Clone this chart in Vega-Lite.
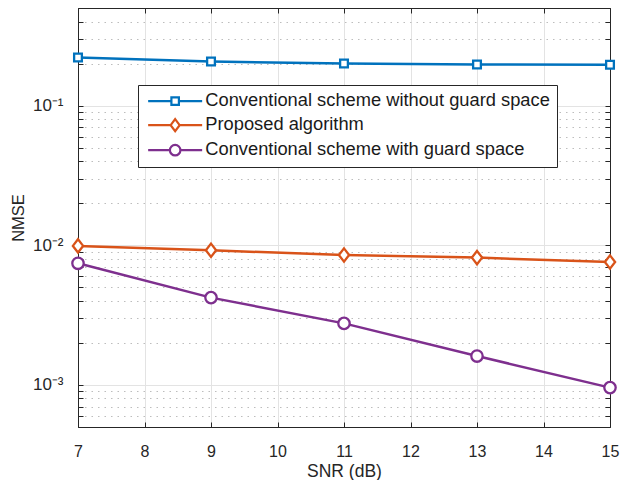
{
  "$schema": "https://vega.github.io/schema/vega-lite/v6.json",
  "autosize": "none",
  "width": 532,
  "height": 419,
  "padding": {"left": 78, "top": 8, "right": 13, "bottom": 53},
  "background": "white",
  "config": {
    "view": {"stroke": null},
    "font": "Liberation Sans",
    "axis": {
      "domainColor": "#262626",
      "domainWidth": 1,
      "tickColor": "#262626",
      "tickWidth": 1,
      "labelColor": "#262626",
      "titleColor": "#262626",
      "labelFont": "Liberation Sans",
      "titleFont": "Liberation Sans",
      "titleFontWeight": "normal"
    }
  },
  "data": {
    "values": [
      {"snr": 7, "series": "Conventional scheme without guard space", "nmse": 0.221},
      {"snr": 9, "series": "Conventional scheme without guard space", "nmse": 0.207},
      {"snr": 11, "series": "Conventional scheme without guard space", "nmse": 0.200},
      {"snr": 13, "series": "Conventional scheme without guard space", "nmse": 0.197},
      {"snr": 15, "series": "Conventional scheme without guard space", "nmse": 0.196},
      {"snr": 7, "series": "Proposed algorithm", "nmse": 0.0099},
      {"snr": 9, "series": "Proposed algorithm", "nmse": 0.00921},
      {"snr": 11, "series": "Proposed algorithm", "nmse": 0.00852},
      {"snr": 13, "series": "Proposed algorithm", "nmse": 0.00816},
      {"snr": 15, "series": "Proposed algorithm", "nmse": 0.00759},
      {"snr": 7, "series": "Conventional scheme with guard space", "nmse": 0.00743},
      {"snr": 9, "series": "Conventional scheme with guard space", "nmse": 0.00422},
      {"snr": 11, "series": "Conventional scheme with guard space", "nmse": 0.00276},
      {"snr": 13, "series": "Conventional scheme with guard space", "nmse": 0.00161},
      {"snr": 15, "series": "Conventional scheme with guard space", "nmse": 0.000957}
    ]
  },
  "resolve": {"axis": {"x": "independent", "y": "independent"}},
  "layer": [
    {
      "mark": {"type": "line", "strokeWidth": 2.5},
      "encoding": {
        "x": {
          "field": "snr", "type": "quantitative",
          "scale": {"domain": [7, 15], "nice": false, "zero": false},
          "axis": {
            "orient": "bottom",
            "title": "SNR (dB)",
            "titleFontSize": 17.5,
            "titlePadding": 3,
            "values": [7, 8, 9, 10, 11, 12, 13, 14, 15],
            "labelFontSize": 16,
            "tickSize": -5,
            "labelPadding": 21,
            "grid": true,
            "gridColor": "#e3e3e3",
            "gridWidth": 1,
            "labelFlush": false
          }
        },
        "y": {
          "field": "nmse", "type": "quantitative",
          "scale": {"type": "log", "domain": [0.0005, 0.5], "nice": false},
          "axis": {
            "orient": "left",
            "title": "NMSE",
            "titleFontSize": 16.5,
            "titlePadding": 6,
            "values": [0.0005, 0.0006, 0.0007, 0.0008, 0.0009, 0.001, 0.002, 0.003, 0.004, 0.005, 0.006, 0.007, 0.008, 0.009, 0.01, 0.02, 0.03, 0.04, 0.05, 0.06, 0.07, 0.08, 0.09, 0.1, 0.2, 0.3, 0.4, 0.5],
            "labelExpr": "datum.value == 0.1 ? '10⁻¹' : datum.value == 0.01 ? '10⁻²' : datum.value == 0.001 ? '10⁻³' : ''",
            "labelOverlap": false,
            "labelFontSize": 17,
            "tickSize": -5,
            "labelPadding": 20,
            "grid": true,
            "gridColor": {"condition": {"test": "datum.value == 0.1 || datum.value == 0.01 || datum.value == 0.001", "value": "#e3e3e3"}, "value": "#bdbdbd"},
            "gridDash": {"condition": {"test": "datum.value == 0.1 || datum.value == 0.01 || datum.value == 0.001", "value": []}, "value": [1.5, 5]},
            "labelFlush": false
          }
        },
        "stroke": {
          "field": "series", "type": "nominal",
          "scale": {
            "domain": ["Proposed algorithm", "Conventional scheme without guard space", "Conventional scheme with guard space"],
            "range": ["#D95319", "#0072BD", "#7E2F8E"]
          },
          "legend": null
        }
      }
    },
    {
      "transform": [{"filter": "datum.series == 'Conventional scheme without guard space'"}],
      "mark": {"type": "point", "shape": "square", "filled": true, "fill": "white", "size": 60, "strokeWidth": 2.3, "opacity": 1},
      "encoding": {
        "x": {"field": "snr", "type": "quantitative", "axis": null},
        "y": {"field": "nmse", "type": "quantitative", "axis": null},
        "stroke": {"field": "series", "type": "nominal", "legend": null}
      }
    },
    {
      "transform": [{"filter": "datum.series == 'Proposed algorithm'"}],
      "mark": {"type": "point", "shape": "M0,-1.3L1,0L0,1.3L-1,0Z", "filled": true, "fill": "white", "size": 105, "strokeWidth": 2.3, "opacity": 1},
      "encoding": {
        "x": {"field": "snr", "type": "quantitative", "axis": null},
        "y": {"field": "nmse", "type": "quantitative", "axis": null},
        "stroke": {"field": "series", "type": "nominal", "legend": null}
      }
    },
    {
      "transform": [{"filter": "datum.series == 'Conventional scheme with guard space'"}],
      "mark": {"type": "point", "shape": "circle", "filled": true, "fill": "white", "size": 130, "strokeWidth": 2.3, "opacity": 1},
      "encoding": {
        "x": {"field": "snr", "type": "quantitative", "axis": null},
        "y": {"field": "nmse", "type": "quantitative", "axis": null},
        "stroke": {"field": "series", "type": "nominal", "legend": null}
      }
    },
    {
      "transform": [{"filter": "datum.snr > 100"}],
      "mark": {"type": "point", "filled": false, "strokeWidth": 2},
      "encoding": {
        "x": {
          "field": "snr", "type": "quantitative",
          "axis": {
            "orient": "top", "title": null, "labels": false, "grid": false,
            "values": [7, 8, 9, 10, 11, 12, 13, 14, 15], "tickSize": -5
          }
        },
        "y": {
          "field": "nmse", "type": "quantitative",
          "axis": {
            "orient": "right", "title": null, "labels": false, "grid": false,
            "values": [0.0005, 0.0006, 0.0007, 0.0008, 0.0009, 0.001, 0.002, 0.003, 0.004, 0.005, 0.006, 0.007, 0.008, 0.009, 0.01, 0.02, 0.03, 0.04, 0.05, 0.06, 0.07, 0.08, 0.09, 0.1, 0.2, 0.3, 0.4, 0.5],
            "tickSize": -5
          }
        },
        "color": {
          "field": "series", "type": "nominal",
          "scale": {
            "domain": ["Conventional scheme without guard space", "Proposed algorithm", "Conventional scheme with guard space"],
            "range": ["#0072BD", "#D95319", "#7E2F8E"]
          },
          "legend": {
            "title": null, "orient": "none", "legendX": 60, "legendY": 77,
            "padding": 7, "rowPadding": 4, "labelOffset": 42,
            "labelFontSize": 18.3, "labelFont": "Liberation Sans", "labelColor": "#1a1a1a", "labelLimit": 600,
            "labelExpr": "datum.label + '\u00a0\u00a0'",
            "symbolSize": 100, "symbolStrokeWidth": 2.2, "symbolFillColor": "white", "symbolOpacity": 1,
            "strokeColor": "#262626", "fillColor": "white"
          }
        },
        "shape": {
          "field": "series", "type": "nominal",
          "scale": {
            "domain": ["Conventional scheme without guard space", "Proposed algorithm", "Conventional scheme with guard space"],
            "range": [
              "M-1.2,0H3.45M4.95,0H9.6M3.45,-0.75H4.95V0.75H3.45Z",
              "M-1.2,0H3.3M5.1,0H9.6M4.2,-1.2L5.1,0L4.2,1.2L3.3,0Z",
              "M-1.2,0H3.15M5.25,0H9.6M3.15,0A1.05,1.05 0 1,1 5.25,0A1.05,1.05 0 1,1 3.15,0Z"
            ]
          },
          "legend": {
            "title": null, "orient": "none", "legendX": 60, "legendY": 77,
            "padding": 7, "rowPadding": 4, "labelOffset": 42,
            "labelFontSize": 18.3, "labelFont": "Liberation Sans", "labelColor": "#1a1a1a", "labelLimit": 600,
            "labelExpr": "datum.label + '\u00a0\u00a0'",
            "symbolSize": 100, "symbolStrokeWidth": 2.2, "symbolFillColor": "white", "symbolOpacity": 1,
            "strokeColor": "#262626", "fillColor": "white"
          }
        }
      }
    }
  ]
}
